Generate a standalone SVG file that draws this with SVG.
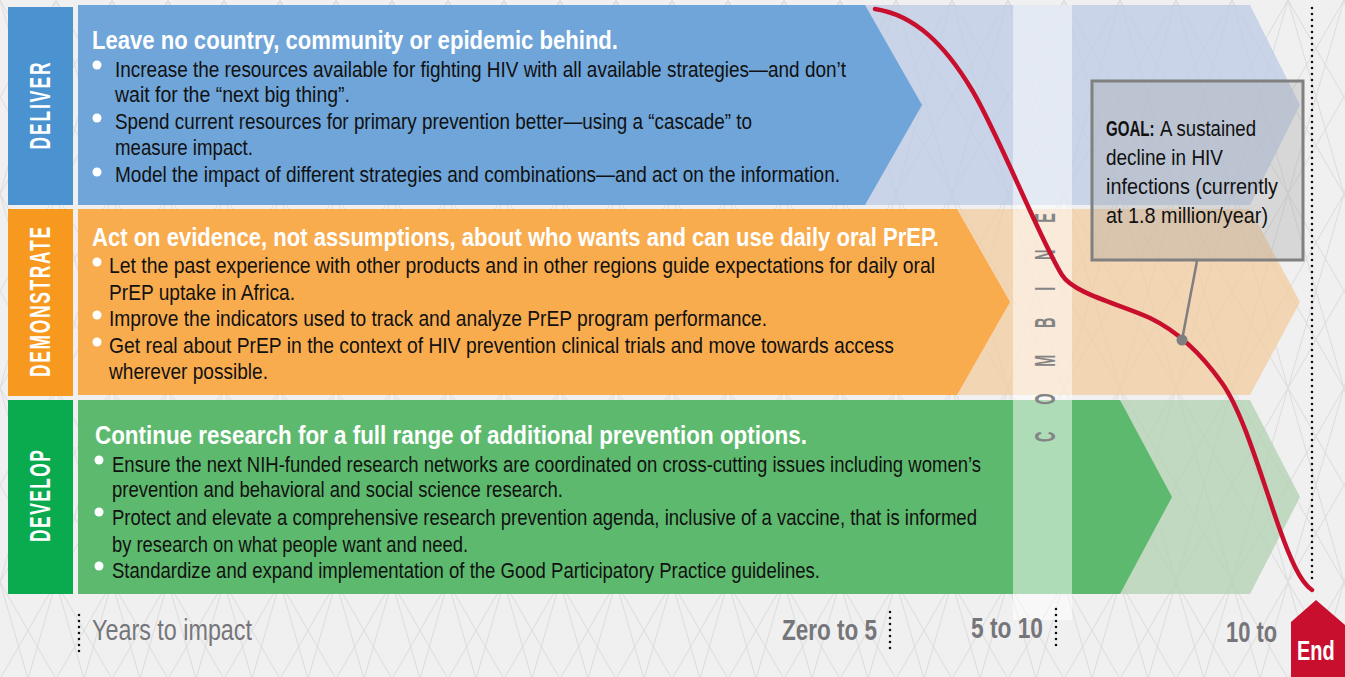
<svg xmlns="http://www.w3.org/2000/svg" width="1345" height="677" viewBox="0 0 1345 677">
<style>
text{font-family:"Liberation Sans",Arial,sans-serif}
.ti{font-size:26px;font-weight:bold;fill:#fff}
.bd{font-size:22px;fill:#111}
.lb{font-size:29px;font-weight:bold;fill:#fff}
.ax{font-size:29px;fill:#76767a}
.axb{font-size:29px;font-weight:bold;fill:#76767a}
.gl{font-size:22.5px;fill:#111}
.dot{fill:#fff}
.vd{stroke:#111;stroke-width:2.6;stroke-linecap:round;stroke-dasharray:0 6;fill:none}
</style>
<defs>
<pattern id="lat" width="112" height="194" patternUnits="userSpaceOnUse">
<path d="M0,0L112,194M112,0L0,194M56,0L0,97M56,0L112,97M0,97L56,194M112,97L56,194M0,0L56,194M56,0L112,194M56,0L0,194M112,0L56,194" stroke="#dedede" stroke-width="1.1" fill="none"/>
</pattern>
</defs>
<rect width="1345" height="677" fill="#f0f0f0"/>
<rect width="1345" height="677" fill="url(#lat)"/>

<g id="deliver">
<polygon points="78,5 1250,5 1300,105 1250,205 78,205" fill="#bfcde6" fill-opacity="0.82"/>
<polygon points="78,5 865,5 922,105 865,205 78,205" fill="#6fa5d9"/>
<rect x="8" y="7" width="65" height="198" fill="#4a92d0"/>
<text class="lb" transform="translate(50,106) rotate(-90) scale(0.6,1)" text-anchor="middle" textLength="145" lengthAdjust="spacing">DELIVER</text>
<text class="ti" x="92" y="49" textLength="526" lengthAdjust="spacingAndGlyphs">Leave no country, community or epidemic behind.</text>
<circle class="dot" cx="97" cy="65" r="4.5"/>
<circle class="dot" cx="97" cy="118" r="4.5"/>
<circle class="dot" cx="97" cy="172" r="4.5"/>
<text class="bd" x="115" y="77" textLength="731" lengthAdjust="spacingAndGlyphs">Increase the resources available for fighting HIV with all available strategies—and don’t</text>
<text class="bd" x="115" y="102" textLength="235" lengthAdjust="spacingAndGlyphs">wait for the “next big thing”.</text>
<text class="bd" x="115" y="129" textLength="637" lengthAdjust="spacingAndGlyphs">Spend current resources for primary prevention better—using a “cascade” to</text>
<text class="bd" x="115" y="155" textLength="138" lengthAdjust="spacingAndGlyphs">measure impact.</text>
<text class="bd" x="115" y="182" textLength="725" lengthAdjust="spacingAndGlyphs">Model the impact of different strategies and combinations—and act on the information.</text>
</g>

<g id="demonstrate">
<polygon points="78,209 1250,209 1300,302 1250,395 78,395" fill="#f2cea5" fill-opacity="0.82"/>
<polygon points="78,209 957,209 1010,302 957,395 78,395" fill="#f9ac4e"/>
<rect x="8" y="209" width="65" height="187" fill="#f7991f"/>
<text class="lb" transform="translate(50,302) rotate(-90) scale(0.6,1)" text-anchor="middle" textLength="250" lengthAdjust="spacing">DEMONSTRATE</text>
<text class="ti" x="92" y="246" textLength="847" lengthAdjust="spacingAndGlyphs">Act on evidence, not assumptions, about who wants and can use daily oral PrEP.</text>
<circle class="dot" cx="97" cy="262" r="4.5"/>
<circle class="dot" cx="97" cy="315" r="4.5"/>
<circle class="dot" cx="97" cy="342" r="4.5"/>
<text class="bd" x="109" y="273" textLength="826" lengthAdjust="spacingAndGlyphs">Let the past experience with other products and in other regions guide expectations for daily oral</text>
<text class="bd" x="109" y="300" textLength="186" lengthAdjust="spacingAndGlyphs">PrEP uptake in Africa.</text>
<text class="bd" x="109" y="326" textLength="658" lengthAdjust="spacingAndGlyphs">Improve the indicators used to track and analyze PrEP program performance.</text>
<text class="bd" x="109" y="353" textLength="785" lengthAdjust="spacingAndGlyphs">Get real about PrEP in the context of HIV prevention clinical trials and move towards access</text>
<text class="bd" x="109" y="379" textLength="159" lengthAdjust="spacingAndGlyphs">wherever possible.</text>
</g>

<g id="develop">
<polygon points="78,400 1250,400 1300,497 1250,594 78,594" fill="#b4d3b4" fill-opacity="0.82"/>
<polygon points="78,400 1120,400 1172,497 1120,594 78,594" fill="#5db96e"/>
<rect x="8" y="400" width="65" height="194" fill="#0aab4f"/>
<text class="lb" transform="translate(50,496) rotate(-90) scale(0.6,1)" text-anchor="middle" textLength="153" lengthAdjust="spacing">DEVELOP</text>
<text class="ti" x="95" y="444" textLength="712" lengthAdjust="spacingAndGlyphs">Continue research for a full range of additional prevention options.</text>
<circle class="dot" cx="99" cy="460" r="4.5"/>
<circle class="dot" cx="99" cy="512" r="4.5"/>
<circle class="dot" cx="99" cy="566" r="4.5"/>
<text class="bd" x="112" y="472" textLength="869" lengthAdjust="spacingAndGlyphs">Ensure the next NIH-funded research networks are coordinated on cross-cutting issues including women’s</text>
<text class="bd" x="112" y="497" textLength="451" lengthAdjust="spacingAndGlyphs">prevention and behavioral and social science research.</text>
<text class="bd" x="112" y="525" textLength="865" lengthAdjust="spacingAndGlyphs">Protect and elevate a comprehensive research prevention agenda, inclusive of a vaccine, that is informed</text>
<text class="bd" x="112" y="552" textLength="356" lengthAdjust="spacingAndGlyphs">by research on what people want and need.</text>
<text class="bd" x="112" y="578" textLength="708" lengthAdjust="spacingAndGlyphs">Standardize and expand implementation of the Good Participatory Practice guidelines.</text>
</g>

<g id="combine">
<rect x="1013" y="5" width="59" height="615" fill="#fff" fill-opacity="0.5"/>
<text transform="translate(1055,327.5) rotate(-90) scale(0.5,1)" text-anchor="middle" textLength="458" lengthAdjust="spacing" style="font-size:29px;font-weight:bold;fill:#848484">COMBINE</text>
</g>

<g id="connectors">
<path d="M875,9 C915,15 945,45 972,90 C999,135 1040,240 1062,275 C1074,294 1120,304 1150,318 C1175,330 1200,352 1222,383 C1244,414 1262,480 1280,530 C1290,558 1300,582 1312,590" fill="none" stroke="#c8102e" stroke-width="4.5" stroke-linecap="round"/>
<line x1="1197" y1="261" x2="1182" y2="340" stroke="#7f7f7f" stroke-width="2.5"/>
<circle cx="1182" cy="340" r="5.5" fill="#7f7f7f"/>
</g>

<g id="goal">
<rect x="1092" y="81" width="211" height="179" fill="#a0a0a0" fill-opacity="0.3" stroke="#808080" stroke-width="3"/>
<text class="gl" transform="translate(1106,136) scale(0.67,1)" font-weight="bold">GOAL:</text>
<text class="gl" x="1160" y="136" textLength="96" lengthAdjust="spacingAndGlyphs">A sustained</text>
<text class="gl" x="1106" y="165" textLength="117" lengthAdjust="spacingAndGlyphs">decline in HIV</text>
<text class="gl" x="1106" y="194" textLength="172" lengthAdjust="spacingAndGlyphs">infections (currently</text>
<text class="gl" x="1106" y="223" textLength="162" lengthAdjust="spacingAndGlyphs">at 1.8 million/year)</text>
</g>

<g id="axis">
<line class="vd" x1="1312" y1="8" x2="1312" y2="584"/>
<line class="vd" x1="79" y1="615" x2="79" y2="652"/>
<line class="vd" x1="890" y1="612" x2="890" y2="650"/>
<line class="vd" x1="1056" y1="609" x2="1056" y2="648"/>
<text class="ax" x="92" y="640" textLength="160" lengthAdjust="spacingAndGlyphs">Years to impact</text>
<text class="axb" x="782" y="640" textLength="95" lengthAdjust="spacingAndGlyphs">Zero to 5</text>
<text class="axb" x="971" y="638" textLength="72" lengthAdjust="spacingAndGlyphs">5 to 10</text>
<text class="axb" x="1226" y="642" textLength="51" lengthAdjust="spacingAndGlyphs">10 to</text>
</g>

<g id="end">
<polygon points="1291,622 1316,600 1345,625 1345,677 1291,677" fill="#c8102e"/>
<text transform="translate(1297,660) scale(0.74,1)" style="font-size:27px;font-weight:bold;fill:#fff">End</text>
</g>
</svg>
